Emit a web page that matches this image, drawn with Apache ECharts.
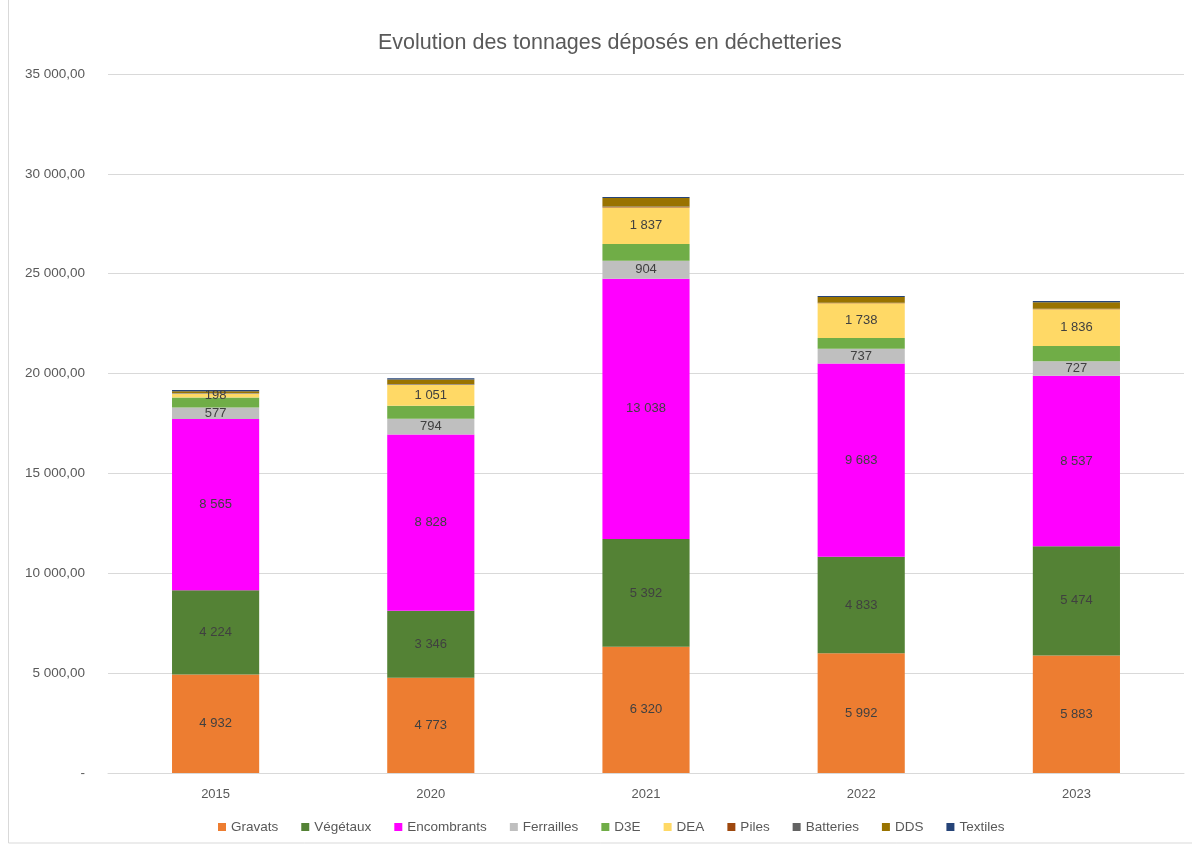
<!DOCTYPE html>
<html>
<head>
<meta charset="utf-8">
<script src="https://cdn.jsdelivr.net/npm/echarts@6/dist/echarts.min.js"></script>
<style>
  html, body { margin: 0; padding: 0; background: #fff; }
  #chart { width: 1192px; height: 844px; }
</style>
</head>
<body>
<div id="chart"></div>
<script>
const years = ['2015', '2020', '2021', '2022', '2023']

const gravats = [4932, 4773, 6320, 5992, 5883]
const vegetaux = [4224, 3346, 5392, 4833, 5474]
const encombrants = [8565, 8828, 13038, 9683, 8537]
const ferrailles = [577, 794, 904, 737, 727]
const d3e = [500, 650, 830, 535, 760]
const dea = [198, 1051, 1837, 1738, 1836]
const piles = [10, 10, 15, 10, 10]
const batteries = [20, 20, 30, 20, 20]
const dds = [90, 230, 420, 280, 330]
const textiles = [60, 60, 60, 55, 60]

const yTicks = [0, 5000, 10000, 15000, 20000, 25000, 30000, 35000]

const fmtThousands = (v) => String(Math.round(v)).replace(/\B(?=(\d{3})+(?!\d))/g, ' ')
const fmtAxis = (v) => v === 0 ? '-' : fmtThousands(v) + ',00'

const FONT = "'Liberation Sans', Arial, sans-serif"

const makeSeries = (name, data, color, showLabel) => ({
  name: name,
  type: 'bar',
  stack: 'total',
  data: data,
  barWidth: '40.5%',
  itemStyle: { color: color },
  label: {
    show: showLabel,
    position: 'inside',
    color: '#404040',
    fontSize: 13,
    fontFamily: FONT,
    formatter: (p) => fmtThousands(p.value)
  },
  emphasis: { disabled: true }
})

const chart = echarts.init(document.getElementById('chart'))

const option = {
  backgroundColor: '#fff',
  animation: false,
  title: {
    text: 'Evolution des tonnages déposés en déchetteries',
    left: 373,
    top: 27,
    textStyle: {
      color: '#595959',
      fontSize: 21.5,
      fontWeight: 'normal',
      fontFamily: FONT
    }
  },
  legend: {
    bottom: 5,
    left: 213,
    itemWidth: 8,
    itemHeight: 8,
    itemGap: 23,
    icon: 'rect',
    textStyle: { color: '#595959', fontSize: 13.5, fontFamily: FONT }
  },
  grid: {
    left: 108,
    right: 8,
    top: 74,
    bottom: 71
  },
  xAxis: {
    type: 'category',
    data: years,
    axisTick: { show: false },
    axisLine: { lineStyle: { color: '#d9d9d9', width: 1 } },
    axisLabel: { color: '#595959', fontSize: 13, fontFamily: FONT, margin: 15 }
  },
  yAxis: {
    type: 'value',
    min: yTicks[0],
    max: yTicks[yTicks.length - 1],
    interval: 5000,
    axisLine: { show: false },
    axisTick: { show: false },
    splitLine: { lineStyle: { color: '#d9d9d9', width: 1 } },
    axisLabel: {
      color: '#595959',
      fontSize: 13.5,
      fontFamily: FONT,
      margin: 23,
      formatter: fmtAxis
    }
  },
  graphic: [
    {
      type: 'rect',
      shape: { x: 8.5, y: -2, width: 1200, height: 845 },
      style: { fill: 'none', stroke: '#d9d9d9', lineWidth: 1 },
      silent: true
    }
  ],
  series: [
    makeSeries('Gravats', gravats, '#ED7D31', true),
    makeSeries('Végétaux', vegetaux, '#548235', true),
    makeSeries('Encombrants', encombrants, '#FF00FF', true),
    makeSeries('Ferrailles', ferrailles, '#BFBFBF', true),
    makeSeries('D3E', d3e, '#70AD47', false),
    makeSeries('DEA', dea, '#FFD966', true),
    makeSeries('Piles', piles, '#9E480E', false),
    makeSeries('Batteries', batteries, '#636363', false),
    makeSeries('DDS', dds, '#997300', false),
    makeSeries('Textiles', textiles, '#264478', false)
  ]
}

chart.setOption(option)
</script>
</body>
</html>
